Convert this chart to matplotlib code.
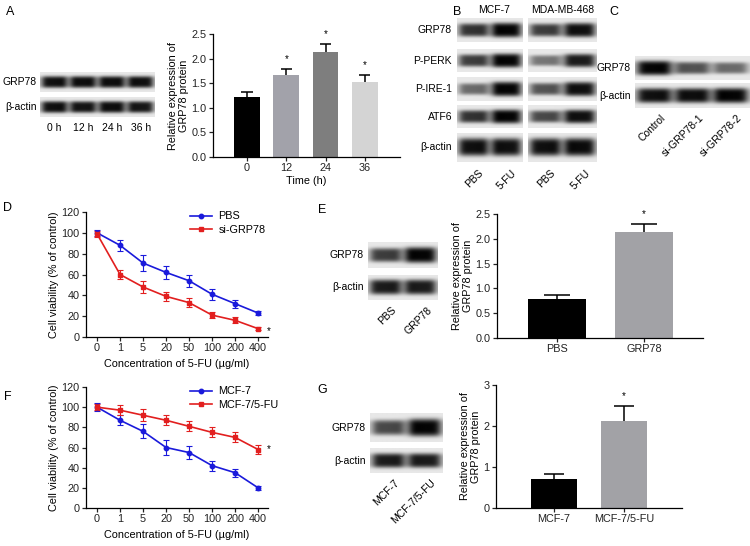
import numpy as np
import matplotlib
matplotlib.use("Agg")
import matplotlib.pyplot as plt

plt.rcParams["font.family"] = ["Liberation Sans", "DejaVu Sans"]
plt.rcParams["font.size"] = 7.5

W_PX, H_PX = 750, 546

# ---- data -------------------------------------------------------------
time_labels = ["0", "12", "24", "36"]
time_expr = [1.21, 1.67, 2.13, 1.53]
time_err = [0.12, 0.12, 0.16, 0.14]
time_sig = [False, True, True, True]
time_colors = ["#000000", "#a2a2aa", "#7e7e7e", "#d4d4d4"]

conc_labels = ["0", "1", "5", "20", "50", "100", "200", "400"]
pbs_viab = [100, 88, 71, 62, 54, 41, 32, 23]
pbs_err = [3, 5, 8, 6, 6, 5, 4, 2]
sigrp_viab = [99, 60, 48, 39, 33, 21, 16, 8]
sigrp_err = [3, 4, 6, 4, 4, 3, 3, 1.5]

mcf_viab = [100, 87, 76, 60, 55, 42, 35, 20]
mcf_err = [4, 5, 7, 7, 6, 5, 4, 2]
mcf5fu_viab = [100, 97, 92, 87, 81, 75, 70, 58]
mcf5fu_err = [3, 5, 6, 5, 5, 5, 5, 4]

e_labels = ["PBS", "GRP78"]
e_expr = [0.78, 2.13]
e_err = [0.08, 0.16]

g_labels = ["MCF-7", "MCF-7/5-FU"]
g_expr = [0.71, 2.13]
g_err = [0.11, 0.35]

# blot band intensities (0 = no band, 1 = saturated)
a_blot = {"GRP78": [0.95, 0.95, 0.95, 0.95], "β-actin": [0.95, 0.92, 0.95, 0.92]}
a_lanes = ["0 h", "12 h", "24 h", "36 h"]
b_rows = ["GRP78", "P-PERK", "P-IRE-1", "ATF6", "β-actin"]
b_mcf = [[0.8, 1.0], [0.75, 1.0], [0.55, 1.0], [0.8, 1.0], [0.95, 0.95]]
b_mda = [[0.75, 0.95], [0.5, 0.9], [0.65, 0.95], [0.7, 0.95], [0.95, 0.97]]
b_lanes = ["PBS", "5-FU"]
c_blot = {"GRP78": [1.0, 0.65, 0.55], "β-actin": [0.95, 0.95, 1.0]}
c_lanes = ["Control", "si-GRP78-1", "si-GRP78-2"]
e_blot = {"GRP78": [0.75, 1.0], "β-actin": [0.9, 0.9]}
g_blot = {"GRP78": [0.7, 1.0], "β-actin": [0.9, 0.9]}


def fx(px):
    return px / W_PX


def fy(py):
    return 1 - py / H_PX


def add_ax(fig, x0, y0, x1, y1):
    return fig.add_axes([fx(x0), fy(y1), (x1 - x0) / W_PX, (y1 - y0) / H_PX])


def band_image(intens, w, h):
    res = 4
    nx, ny = int(w * res), int(h * res)
    xs = np.arange(nx) + 0.5
    ys = np.arange(ny)[:, None] + 0.5
    bg = 0.91
    img = np.full((ny, nx), bg)
    n = len(intens)
    for i, v in enumerate(intens):
        cx = (i + 0.5) / n * nx
        hw = 0.43 * nx / n
        xp = 1 / (1 + ((xs - cx) / hw) ** 6)
        sh = ny * 0.3 * (0.55 + 0.45 * v)
        yp = np.exp(-((ys - ny / 2) / sh) ** 4)
        img -= (bg - 0.02) * v * xp * yp
    return np.clip(img, 0, 1)


def draw_blot(fig, x0, x1, y0, y1, intens):
    ax = add_ax(fig, x0, y0, x1, y1)
    ax.imshow(band_image(intens, x1 - x0, y1 - y0), cmap="gray", vmin=0, vmax=1,
              aspect="auto", interpolation="bilinear")
    ax.axis("off")
    return ax


def style_axes(ax):
    for side in ("top", "right"):
        ax.spines[side].set_visible(False)
    for side in ("left", "bottom"):
        ax.spines[side].set_linewidth(0.9)
    ax.tick_params(direction="out", length=3, width=0.9, pad=1.5, labelsize=7.8,
                   colors="#222222")


def bar_panel(ax, labels, vals, errs, colors, sig, width, xlim, ylim, yticks):
    pos = np.arange(len(vals))
    ax.bar(pos, vals, width=width, color=colors, zorder=2)
    for p, v, e, s in zip(pos, vals, errs, sig):
        ax.vlines(p, v, v + e, color="black", lw=1.1, zorder=3)
        ax.hlines(v + e, p - width * 0.22, p + width * 0.22, color="black", lw=1.1, zorder=3)
        if s:
            ax.text(p, v + e + ylim[1] * 0.04, "*", ha="center", va="bottom", fontsize=7)
    ax.set_xticks(pos)
    ax.set_xticklabels(labels)
    ax.set_xlim(*xlim)
    ax.set_ylim(*ylim)
    ax.set_yticks(yticks)
    style_axes(ax)
    ax.set_ylabel("Relative expression of\nGRP78 protein", fontsize=7.8, labelpad=2,
                  linespacing=1.1)


def line_panel(ax, s1, e1, s2, e2, names, star_y):
    pos = np.arange(len(conc_labels))
    blue, red = "#1a1adb", "#e21f1f"
    ax.errorbar(pos, s1, yerr=e1, fmt="none", ecolor=blue, capsize=2,
                elinewidth=0.8, capthick=0.8, zorder=3)
    ax.errorbar(pos, s2, yerr=e2, fmt="none", ecolor=red, capsize=2,
                elinewidth=0.8, capthick=0.8, zorder=3)
    ax.plot(pos, s1, color=blue, marker="o", ms=3.2, lw=1.2, label=names[0], zorder=4)
    ax.plot(pos, s2, color=red, marker="s", ms=3.2, lw=1.2, label=names[1], zorder=4)
    ax.text(pos[-1] + 0.45, star_y, "*", ha="center", va="center", fontsize=7)
    ax.set_xticks(pos)
    ax.set_xticklabels(conc_labels)
    ax.set_xlim(-0.48, 7.43)
    ax.set_ylim(0, 120)
    ax.set_yticks(range(0, 121, 20))
    style_axes(ax)
    ax.set_ylabel("Cell viability (% of control)", fontsize=7.8, labelpad=2)
    ax.set_xlabel("Concentration of 5-FU (µg/ml)", fontsize=7.8, labelpad=4)
    ax.legend(loc="upper left", bbox_to_anchor=(0.55, 1.04), frameon=False,
              fontsize=7.8, handlelength=2.0, handletextpad=0.6, borderaxespad=0,
              labelspacing=0.3)


fig = plt.figure(figsize=(7.5, 5.46), dpi=100, facecolor="white")

# panel letters
for letter, (px, py) in {"A": (10, 12), "B": (457, 12), "C": (614, 12), "D": (8, 208),
                         "E": (322, 210), "F": (8, 397), "G": (322, 390)}.items():
    fig.text(fx(px), fy(py), letter, fontsize=9, ha="center", va="center")

# ---- A -----------------------------------------------------------------
draw_blot(fig, 40, 155, 72, 92, a_blot["GRP78"])
draw_blot(fig, 40, 155, 97, 117, a_blot["β-actin"])
fig.text(fx(37), fy(82), "GRP78", ha="right", va="center")
fig.text(fx(37), fy(107), "β-actin", ha="right", va="center")
for i, lab in enumerate(a_lanes):
    fig.text(fx(40 + (i + 0.5) * 115 / 4), fy(128), lab, ha="center", va="center")

ax_a = add_ax(fig, 213, 34, 400, 157)
bar_panel(ax_a, time_labels, time_expr, time_err, time_colors, time_sig, 0.66,
          (-0.87, 3.9), (0, 2.5), [0, 0.5, 1.0, 1.5, 2.0, 2.5])
ax_a.set_yticklabels(["0.0", "0.5", "1.0", "1.5", "2.0", "2.5"])
ax_a.set_xlabel("Time (h)", fontsize=7.8, labelpad=2)

# ---- B -----------------------------------------------------------------
b_tops = [18, 49, 77, 105, 133]
b_bots = [42, 72, 101, 128, 162]
for name, t, b, m1, m2 in zip(b_rows, b_tops, b_bots, b_mcf, b_mda):
    draw_blot(fig, 457, 523, t, b, m1)
    draw_blot(fig, 528, 597, t, b, m2)
    fig.text(fx(452), fy((t + b) / 2), name, ha="right", va="center")
fig.text(fx(494), fy(10), "MCF-7", ha="center", va="center")
fig.text(fx(563), fy(10), "MDA-MB-468", ha="center", va="center")
for x0, x1 in ((457, 523), (528, 597)):
    for i, lab in enumerate(b_lanes):
        cx = x0 + (i + 0.5) * (x1 - x0) / 2
        fig.text(fx(cx + 5), fy(168), lab, ha="right", va="top", rotation=45,
                 rotation_mode="anchor")

# ---- C -----------------------------------------------------------------
draw_blot(fig, 635, 750, 56, 80, c_blot["GRP78"])
draw_blot(fig, 635, 750, 83, 108, c_blot["β-actin"])
fig.text(fx(631), fy(68), "GRP78", ha="right", va="center")
fig.text(fx(631), fy(96), "β-actin", ha="right", va="center")
for i, lab in enumerate(c_lanes):
    cx = 635 + (i + 0.5) * 115 / 3
    fig.text(fx(cx + 6), fy(113), lab, ha="right", va="top", rotation=45,
             rotation_mode="anchor")

# ---- D -----------------------------------------------------------------
ax_d = add_ax(fig, 86, 212, 268, 337)
line_panel(ax_d, pbs_viab, pbs_err, sigrp_viab, sigrp_err, ["PBS", "si-GRP78"], 6)

# ---- E -----------------------------------------------------------------
draw_blot(fig, 368, 438, 242, 268, e_blot["GRP78"])
draw_blot(fig, 368, 438, 275, 300, e_blot["β-actin"])
fig.text(fx(364), fy(255), "GRP78", ha="right", va="center")
fig.text(fx(364), fy(287), "β-actin", ha="right", va="center")
for i, lab in enumerate(e_labels):
    cx = 368 + (i + 0.5) * 70 / 2
    fig.text(fx(cx + 6), fy(305), lab, ha="right", va="top", rotation=45,
             rotation_mode="anchor")

ax_e = add_ax(fig, 497, 214, 703, 338)
bar_panel(ax_e, e_labels, e_expr, e_err, ["#000000", "#a2a2a6"], [False, True], 0.67,
          (-0.69, 1.68), (0, 2.5), [0, 0.5, 1.0, 1.5, 2.0, 2.5])
ax_e.set_yticklabels(["0.0", "0.5", "1.0", "1.5", "2.0", "2.5"])

# ---- F -----------------------------------------------------------------
ax_f = add_ax(fig, 86, 387, 268, 508)
line_panel(ax_f, mcf_viab, mcf_err, mcf5fu_viab, mcf5fu_err, ["MCF-7", "MCF-7/5-FU"], 58)

# ---- G -----------------------------------------------------------------
draw_blot(fig, 370, 442, 413, 442, g_blot["GRP78"])
draw_blot(fig, 370, 442, 448, 473, g_blot["β-actin"])
fig.text(fx(366), fy(428), "GRP78", ha="right", va="center")
fig.text(fx(366), fy(461), "β-actin", ha="right", va="center")
for i, lab in enumerate(g_labels):
    cx = 370 + (i + 0.5) * 72 / 2
    fig.text(fx(cx + 6), fy(478), lab, ha="right", va="top", rotation=45,
             rotation_mode="anchor")

ax_g = add_ax(fig, 496, 385, 682, 508)
bar_panel(ax_g, g_labels, g_expr, g_err, ["#000000", "#a2a2a6"], [False, True], 0.67,
          (-0.83, 1.83), (0, 3), [0, 1, 2, 3])

fig.savefig("out.png", dpi=100, facecolor="white")
